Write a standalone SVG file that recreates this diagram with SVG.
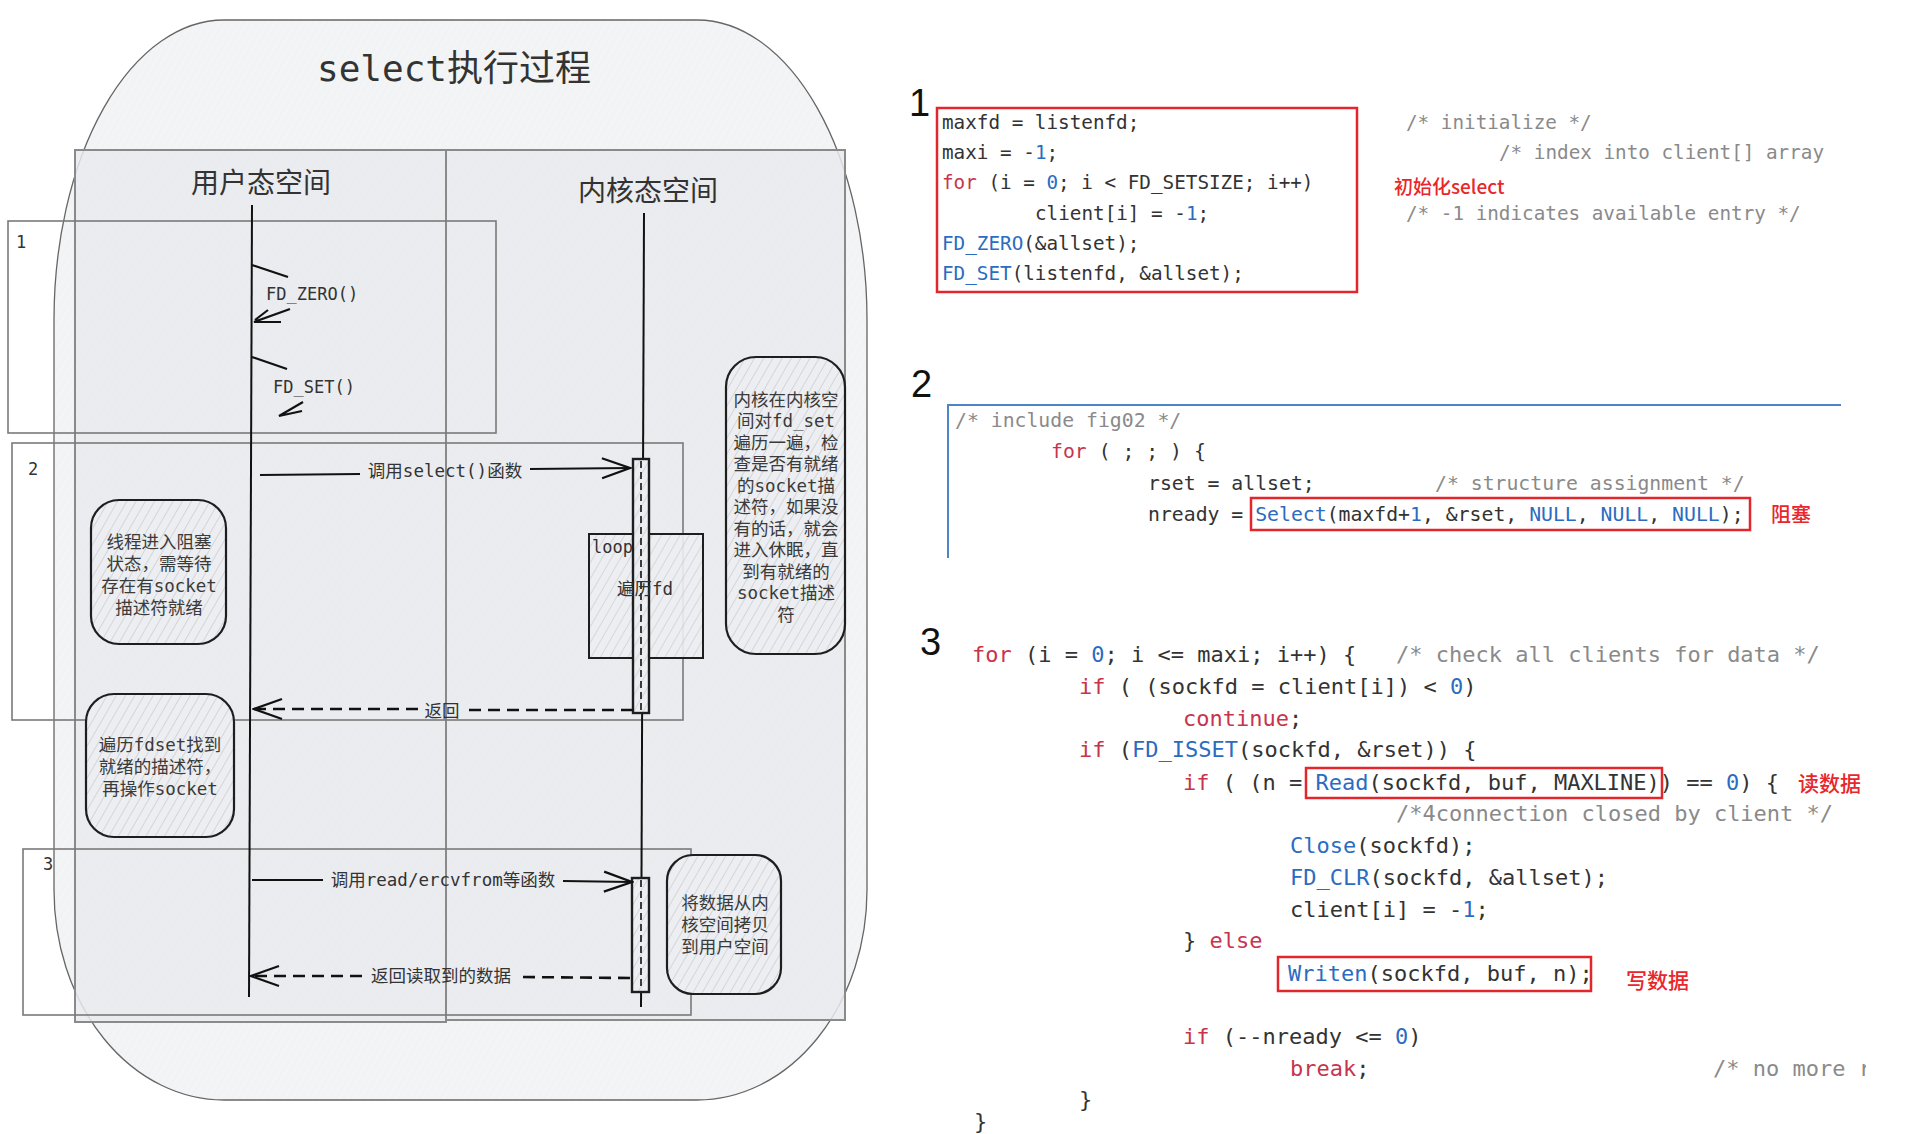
<svg xmlns="http://www.w3.org/2000/svg" width="1906" height="1134" viewBox="0 0 1906 1134">
<style>
.lt{font-family:"DejaVu Sans Mono","Noto Sans CJK SC",monospace;fill:#333}
.note{fill:url(#hatch);stroke:#1e1e1e;stroke-width:2.2}
.box{fill:none;stroke:#7a7a7a;stroke-width:1.6}
.lane{fill:#e8eaed;fill-opacity:0.85;stroke:#8a8a8a;stroke-width:2}
.life{stroke:#111;stroke-width:2;fill:none}
.msg{stroke:#111;stroke-width:2.2;fill:none}
.ret{stroke:#111;stroke-width:2.6;fill:none;stroke-dasharray:12 7}
.nt{font-size:17.5px;text-anchor:middle;fill:#3a3a3a}
.ml{font-size:17.5px;text-anchor:middle;fill:#333}
.code{font-family:"DejaVu Sans Mono","Liberation Mono",monospace;fill:#333;white-space:pre}
.s1{font-size:19.3px}
.s2{font-size:19.8px}
.s3{font-size:22px}
.kw{fill:#c8344c}
.fn{fill:#2b6cc0}
.cm{fill:#8a8a8a}
.rb{fill:none;stroke:#e3262c;stroke-width:2.5}
.rl{font-family:"Noto Sans CJK SC","Liberation Sans",sans-serif;font-weight:500;fill:#e8262b}
.big{font-family:"Liberation Sans","DejaVu Sans",sans-serif;font-size:38px;fill:#111}
</style>
<defs>
<pattern id="hatch" width="8" height="8" patternUnits="userSpaceOnUse" patternTransform="rotate(30)">
<rect width="8" height="8" fill="#eceef1"/>
<line x1="0" y1="0" x2="0" y2="8" stroke="#c3c5c8" stroke-width="1.2"/>
</pattern>
<pattern id="faint" width="6" height="6" patternUnits="userSpaceOnUse" patternTransform="rotate(30)">
<rect width="6" height="6" fill="#f3f4f6"/>
<line x1="0" y1="0" x2="0" y2="6" stroke="#eceef0" stroke-width="1"/>
</pattern>
<marker id="open" viewBox="-30 -12 32 24" refX="0" refY="0" markerWidth="32" markerHeight="24" markerUnits="userSpaceOnUse" orient="auto">
<path d="M-28,-10 L0,0 L-28,10" fill="none" stroke="#111" stroke-width="2.2"/>
</marker>
<clipPath id="clipR"><rect x="0" y="0" width="1866" height="1134"/></clipPath>
</defs>
<rect width="1906" height="1134" fill="#ffffff"/>

<g id="outer">
<path d="M224,20 H697 A170,300 0 0 1 867,320 V890 A170,210 0 0 1 697,1100 H224 A170,210 0 0 1 54,890 V320 A170,300 0 0 1 224,20 Z" fill="url(#faint)" stroke="#666" stroke-width="1.3"/>
<text class="lt" x="454" y="81" font-size="36" text-anchor="middle" fill="#111">select执行过程</text>
</g>

<g id="lane-user">
<rect class="lane" x="75" y="150" width="371" height="872"/>
<text class="lt" x="261" y="193" font-size="28" text-anchor="middle" fill="#222">用户态空间</text>
</g>
<g id="lane-kernel">
<rect class="lane" x="446" y="150" width="399" height="870"/>
<text class="lt" x="648" y="201" font-size="28" text-anchor="middle" fill="#222">内核态空间</text>
</g>

<g id="frame-1">
<rect class="box" x="8" y="221" width="488" height="212"/>
<text class="lt" x="16" y="248" font-size="17">1</text>
</g>
<g id="frame-2">
<rect class="box" x="12" y="443" width="671" height="277"/>
<text class="lt" x="28" y="475" font-size="17">2</text>
</g>
<g id="frame-3">
<rect class="box" x="23" y="849" width="668" height="166"/>
<text class="lt" x="43" y="870" font-size="17">3</text>
</g>

<g id="lifeline-user">
<line class="life" x1="252" y1="205" x2="249" y2="997"/>
</g>
<g id="lifeline-kernel">
<line class="life" x1="644" y1="213" x2="641" y2="1007"/>
</g>

<g id="note-block">
<rect class="note" x="91" y="500" width="135" height="144" rx="28"/>
<text class="lt nt" x="159"><tspan x="159" y="548">线程进入阻塞</tspan><tspan x="159" y="570">状态，需等待</tspan><tspan x="159" y="592">存在有socket</tspan><tspan x="159" y="614">描述符就绪</tspan></text>
</g>
<g id="note-iterate">
<rect class="note" x="86" y="694" width="148" height="143" rx="28"/>
<text class="lt nt" x="160"><tspan x="160" y="751">遍历fdset找到</tspan><tspan x="160" y="773">就绪的描述符，</tspan><tspan x="160" y="795">再操作socket</tspan></text>
</g>
<g id="note-kernel-scan">
<rect class="note" x="726" y="357" width="119" height="297" rx="30"/>
<text class="lt nt" x="786"><tspan x="786" y="406">内核在内核空</tspan><tspan x="786" y="427">间对fd_set</tspan><tspan x="786" y="449">遍历一遍，检</tspan><tspan x="786" y="470">查是否有就绪</tspan><tspan x="786" y="492">的socket描</tspan><tspan x="786" y="513">述符，如果没</tspan><tspan x="786" y="535">有的话，就会</tspan><tspan x="786" y="556">进入休眠，直</tspan><tspan x="786" y="578">到有就绪的</tspan><tspan x="786" y="599">socket描述</tspan><tspan x="786" y="621">符</tspan></text>
</g>
<g id="note-kernel-copy">
<rect class="note" x="667" y="855" width="114" height="139" rx="26"/>
<text class="lt nt" x="725"><tspan x="725" y="909">将数据从内</tspan><tspan x="725" y="931">核空间拷贝</tspan><tspan x="725" y="953">到用户空间</tspan></text>
</g>

<g id="loop">
<rect x="589" y="534" width="114" height="124" fill="url(#hatch)" fill-opacity="0.9" stroke="#1e1e1e" stroke-width="2"/>
</g>
<g id="activation-1">
<rect x="633" y="459" width="16" height="254" fill="url(#hatch)" stroke="#1e1e1e" stroke-width="2.4"/>
<line x1="641" y1="461" x2="641" y2="711" stroke="#111" stroke-width="1.6" stroke-dasharray="7 4"/>
</g>
<g id="loop-label">
<text class="lt" x="592" y="553" font-size="17">loop</text>
<text class="lt" x="645" y="595" font-size="17.5" text-anchor="middle">遍历fd</text>
</g>
<g id="activation-2">
<rect x="632" y="878" width="17" height="114" fill="url(#hatch)" stroke="#1e1e1e" stroke-width="2.4"/>
<line x1="641" y1="880" x2="641" y2="990" stroke="#111" stroke-width="1.6" stroke-dasharray="7 4"/>
</g>

<g id="connectors">
<path class="msg" d="M252,265 L288,277"/>
<path class="msg" d="M290,309 L254,322 L281,322 M268,310 L255,320"/>
<text class="lt" x="266" y="300" font-size="17">FD_ZERO()</text>
<path class="msg" d="M252,357 L287,369"/>
<path class="msg" d="M303,402 L279,416 L302,411"/>
<text class="lt" x="273" y="393" font-size="17">FD_SET()</text>

<path class="msg" d="M260,475 L360,474"/>
<path class="msg" d="M530,469 L630,468" marker-end="url(#open)"/>
<text class="lt ml" x="445" y="477">调用select()函数</text>

<path class="ret" d="M633,710 L465,710"/>
<path class="ret" d="M418,709 L254,709" marker-end="url(#open)"/>
<text class="lt ml" x="442" y="717">返回</text>

<path class="msg" d="M252,880 L323,880"/>
<path class="msg" d="M563,881 L632,882" marker-end="url(#open)"/>
<text class="lt ml" x="443" y="886">调用read/ercvfrom等函数</text>

<path class="ret" d="M630,978 L518,977"/>
<path class="ret" d="M362,976 L251,976" marker-end="url(#open)"/>
<text class="lt ml" x="441" y="982">返回读取到的数据</text>
</g>

<g id="code-1">
<text class="big" x="909" y="116">1</text>
<rect class="rb" x="937" y="108" width="420" height="184"/>
<text class="code s1" x="942" y="129">maxfd = listenfd;</text>
<text class="code s1" x="942" y="159">maxi = -<tspan class="fn">1</tspan>;</text>
<text class="code s1" x="942" y="189"><tspan class="kw">for</tspan> (i = <tspan class="fn">0</tspan>; i &lt; FD_SETSIZE; i++)</text>
<text class="code s1" x="1035" y="220">client[i] = -<tspan class="fn">1</tspan>;</text>
<text class="code s1" x="942" y="250"><tspan class="fn">FD_ZERO</tspan>(&amp;allset);</text>
<text class="code s1" x="942" y="280"><tspan class="fn">FD_SET</tspan>(listenfd, &amp;allset);</text>
<text class="code s1 cm" x="1406" y="129">/* initialize */</text>
<text class="code s1 cm" x="1499" y="159">/* index into client[] array</text>
<text class="code s1 cm" x="1406" y="220">/* -1 indicates available entry */</text>
<text class="rl" x="1394" y="194" font-size="19">初始化select</text>
</g>

<g id="code-2">
<text class="big" x="911" y="397">2</text>
<polyline points="1841,405 948,405 948,558" fill="none" stroke="#4a86c8" stroke-width="2"/>
<text class="code s2 cm" x="955" y="427">/* include fig02 */</text>
<text class="code s2" x="1051" y="458"><tspan class="kw">for</tspan> ( ; ; ) {</text>
<text class="code s2" x="1148" y="490">rset = allset;</text>
<text class="code s2 cm" x="1435" y="490">/* structure assignment */</text>
<text class="code s2" x="1148" y="521">nready = <tspan class="fn">Select</tspan>(maxfd+<tspan class="fn">1</tspan>, &amp;rset, <tspan class="fn">NULL</tspan>, <tspan class="fn">NULL</tspan>, <tspan class="fn">NULL</tspan>);</text>
<rect class="rb" x="1251" y="498" width="499" height="32"/>
<text class="rl" x="1771" y="522" font-size="20">阻塞</text>
</g>

<g id="code-3">
<text class="big" x="920" y="655">3</text>
<text class="code s3" x="972" y="662"><tspan class="kw">for</tspan> (i = <tspan class="fn">0</tspan>; i &lt;= maxi; i++) {</text>
<text class="code s3 cm" x="1396" y="662">/* check all clients for data */</text>
<text class="code s3" x="1079" y="694"><tspan class="kw">if</tspan> ( (sockfd = client[i]) &lt; <tspan class="fn">0</tspan>)</text>
<text class="code s3 kw" x="1183" y="726">continue<tspan fill="#333">;</tspan></text>
<text class="code s3" x="1079" y="757"><tspan class="kw">if</tspan> (<tspan class="fn">FD_ISSET</tspan>(sockfd, &amp;rset)) {</text>
<text class="code s3" x="1183" y="790"><tspan class="kw">if</tspan> ( (n = <tspan class="fn">Read</tspan>(sockfd, buf, MAXLINE)) == <tspan class="fn">0</tspan>) {</text>
<rect class="rb" x="1306" y="768" width="356" height="30"/>
<text class="rl" x="1798" y="791" font-size="21">读数据</text>
<text class="code s3 cm" x="1396" y="821">/*4connection closed by client */</text>
<text class="code s3" x="1290" y="853"><tspan class="fn">Close</tspan>(sockfd);</text>
<text class="code s3" x="1290" y="885"><tspan class="fn">FD_CLR</tspan>(sockfd, &amp;allset);</text>
<text class="code s3" x="1290" y="917">client[i] = -<tspan class="fn">1</tspan>;</text>
<text class="code s3" x="1183" y="948">} <tspan class="kw">else</tspan></text>
<text class="code s3" x="1288" y="981"><tspan class="fn">Writen</tspan>(sockfd, buf, n);</text>
<rect class="rb" x="1278" y="957" width="313" height="34"/>
<text class="rl" x="1626" y="988" font-size="21">写数据</text>
<text class="code s3" x="1183" y="1044"><tspan class="kw">if</tspan> (--nready &lt;= <tspan class="fn">0</tspan>)</text>
<text class="code s3 kw" x="1290" y="1076">break<tspan fill="#333">;</tspan></text>
<text class="code s3 cm" x="1713" y="1076" clip-path="url(#clipR)">/* no more r</text>
<text class="code s3" x="1079" y="1107">}</text>
<text class="code s3" x="974" y="1129">}</text>
</g>
</svg>
